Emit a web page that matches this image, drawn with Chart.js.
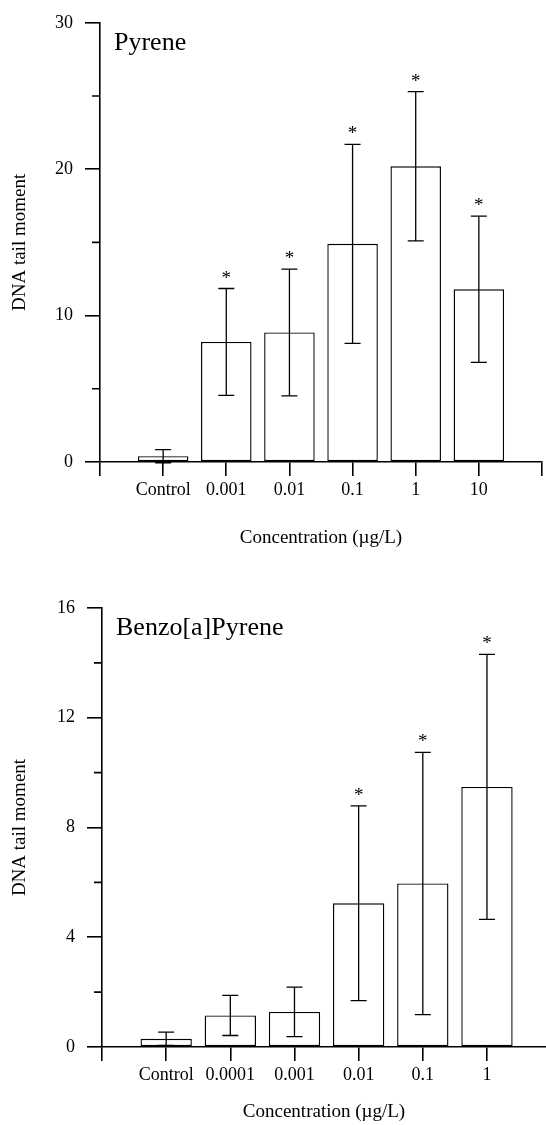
<!DOCTYPE html>
<html>
<head>
<meta charset="utf-8">
<script src="https://cdn.jsdelivr.net/npm/chart.js@4.4.1/dist/chart.umd.min.js"></script>
<style>
  html, body { margin: 0; padding: 0; background: #fff; overflow: hidden; }
  #pyreneChart { position: absolute; left: 0; top: 0; }
  #bapChart { position: absolute; left: 0; top: 565px; }
</style>
</head>
<body>
<canvas id="pyreneChart" width="546" height="565"></canvas>
<canvas id="bapChart" width="546" height="560"></canvas>
<script>
// Pyrene panel
const pyreneLabels = ['Control', '0.001', '0.01', '0.1', '1', '10'];
const pyreneMeans = [0.4, 8.2, 8.85, 14.9, 20.2, 11.8];
const pyreneSD = [0.45, 3.65, 4.33, 6.8, 5.1, 5.0];
const pyreneSig = [false, true, true, true, true, true];
const pyreneYTicks = [0, 10, 20, 30];
const pyreneXTicks = [-1, 0, 1, 2, 3, 4, 5, 6];

// Benzo[a]pyrene panel
const bapLabels = ['Control', '0.0001', '0.001', '0.01', '0.1', '1'];
const bapMeans = [0.3, 1.15, 1.28, 5.24, 5.96, 9.48];
const bapSD = [0.24, 0.73, 0.9, 3.55, 4.78, 4.83];
const bapSig = [false, false, false, true, true, true];
const bapYTicks = [0, 4, 8, 12, 16];
const bapXTicks = [-1, 0, 1, 2, 3, 4, 5];

const serif = 'Liberation Serif';

// error bars, stars, minor ticks and the panel name
const errorBarPlugin = {
  id: 'errorBars',
  afterDatasetsDraw(chart, args, opts) {
    const ctx = chart.ctx;
    const xs = chart.scales.x;
    const ys = chart.scales.y;
    const area = chart.chartArea;
    ctx.save();
    ctx.strokeStyle = '#000';
    ctx.fillStyle = '#000';
    ctx.lineWidth = 1.3;
    ctx.font = '19px ' + serif;
    ctx.textAlign = 'center';
    ctx.textBaseline = 'middle';
    opts.means.forEach((m, i) => {
      const x = xs.getPixelForValue(i);
      const yHi = ys.getPixelForValue(m + opts.sd[i]);
      const yLo = ys.getPixelForValue(m - opts.sd[i]);
      ctx.beginPath();
      ctx.moveTo(x, yHi); ctx.lineTo(x, yLo);
      ctx.moveTo(x - 8, yHi); ctx.lineTo(x + 8, yHi);
      ctx.moveTo(x - 8, yLo); ctx.lineTo(x + 8, yLo);
      ctx.stroke();
      if (opts.sig[i]) {
        ctx.fillText('*', x, yHi - 10);
      }
    });

    // minor ticks half way between labelled ones
    ctx.lineWidth = 1.6;
    ctx.beginPath();
    for (let v = opts.minor; v < ys.max; v += opts.minor * 2) {
      const y = ys.getPixelForValue(v);
      ctx.moveTo(area.left - 8, y);
      ctx.lineTo(area.left, y);
    }
    ctx.stroke();

    ctx.font = '26px ' + serif;
    ctx.textAlign = 'left';
    ctx.textBaseline = 'alphabetic';
    ctx.fillText(opts.name, area.left + 14, area.top + 27);
    ctx.restore();
  }
};

function makeChart(id, labels, means, sd, sig, yMax, yTicks, xMax, xTicks, minor, name, layout) {
  const ctx = document.getElementById(id).getContext('2d');
  return new Chart(ctx, {
    type: 'bar',
    data: {
      datasets: [{
        data: means.map((m, i) => ({ x: i, y: m })),
        backgroundColor: '#fff',
        borderColor: '#000',
        borderWidth: 1.4,
        borderSkipped: false,
        barPercentage: 0.8,
        categoryPercentage: 1.0
      }]
    },
    options: {
      responsive: false,
      animation: false,
      layout: { padding: layout.padding },
      plugins: {
        legend: { display: false },
        tooltip: { enabled: false },
        errorBars: { means: means, sd: sd, sig: sig, minor: minor, name: name }
      },
      scales: {
        x: {
          type: 'linear',
          min: -1,
          max: xMax,
          offset: false,
          afterBuildTicks: s => { s.ticks = xTicks.map(v => ({ value: v })); },
          afterFit: s => { s.height = layout.xHeight; },
          grid: { drawOnChartArea: false, offset: false, color: '#000', lineWidth: 1.6, tickLength: 14 },
          border: { color: '#000', width: 1.6 },
          ticks: {
            color: '#000',
            font: { family: serif, size: 18 },
            padding: 3,
            autoSkip: false,
            maxRotation: 0,
            callback: v => labels[v] ?? ''
          },
          title: {
            display: true,
            text: 'Concentration (µg/L)',
            color: '#000',
            font: { family: serif, size: 19, lineHeight: 0.8 },
            padding: { top: 0, bottom: layout.xTitlePad }
          }
        },
        y: {
          min: 0,
          max: yMax,
          afterBuildTicks: s => { s.ticks = yTicks.map(v => ({ value: v })); },
          afterFit: s => { s.width = layout.yWidth; },
          grid: { drawOnChartArea: false, color: '#000', lineWidth: 1.6, tickLength: 15 },
          border: { color: '#000', width: 1.6 },
          ticks: { color: '#000', font: { family: serif, size: 18 }, padding: 12 },
          title: {
            display: true,
            text: 'DNA tail moment',
            color: '#000',
            font: { family: serif, size: 19, lineHeight: 0.8 },
            padding: { top: 12, bottom: 0 }
          }
        }
      }
    },
    plugins: [errorBarPlugin]
  });
}

makeChart('pyreneChart', pyreneLabels, pyreneMeans, pyreneSD, pyreneSig, 30, pyreneYTicks, 6, pyreneXTicks, 5, 'Pyrene',
  { padding: { left: 0, right: 4, top: 15, bottom: 8 }, xHeight: 95, xTitlePad: 11, yWidth: 100 });

makeChart('bapChart', bapLabels, bapMeans, bapSD, bapSig, 16, bapYTicks, 5.92, bapXTicks, 2, 'Benzo[a]Pyrene',
  { padding: { left: 0, right: 0, top: 43, bottom: 0 }, xHeight: 78, xTitlePad: 5, yWidth: 102 });
</script>
</body>
</html>
